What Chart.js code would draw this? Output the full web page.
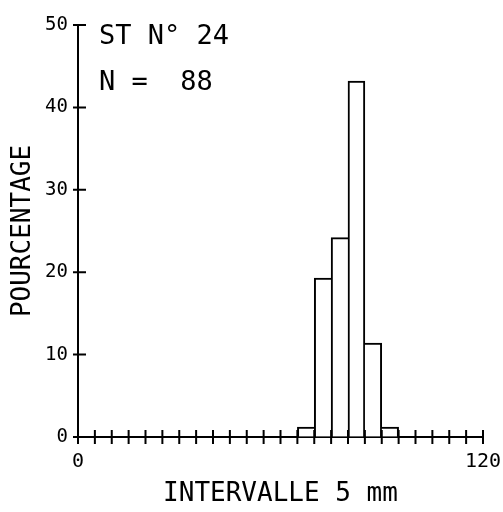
<!DOCTYPE html>
<html>
<head>
<meta charset="utf-8">
<script src="https://cdn.jsdelivr.net/npm/chart.js@4"></script>
<style>
  html, body { margin: 0; padding: 0; background: #fff; }
  canvas { display: block; }
</style>
</head>
<body>
<canvas id="histo" width="503" height="512"></canvas>
<script>
// class lower bounds (mm), 5 mm wide
const classStarts = [65, 70, 75, 80, 85, 90];
// percentage of the 88 individuals in each class
const percentages = [1.2, 19.3, 24.2, 43.2, 11.4, 1.2];
const xLabels = { 0: '0', 120: '120' };
const station = 'ST N° 24';
const sampleSize = 'N =  88';

const INK = '#000';
const MONO = "'DejaVu Sans Mono', monospace";

// shared edge between two bars goes to the taller one, so it is drawn once
function edgeWidths(c) {
  const i = c.dataIndex;
  const h = percentages;
  const prev = i > 0 ? h[i - 1] : -1;
  const next = i < h.length - 1 ? h[i + 1] : -1;
  return { top: 2, bottom: 0, left: h[i] > prev ? 2 : 0, right: h[i] >= next ? 2 : 0 };
}

// ticks that cross the axis lines, plus the header text
const plotterMarks = {
  id: 'plotterMarks',
  afterDraw(chart) {
    const { ctx, scales: { x, y } } = chart;
    const x0 = x.getPixelForValue(0);
    const y0 = y.getPixelForValue(0);
    ctx.save();
    ctx.strokeStyle = INK;
    ctx.lineWidth = 2;
    ctx.beginPath();
    x.ticks.forEach((t) => {
      const px = x.getPixelForValue(t.value);
      ctx.moveTo(px, y0 - 7);
      ctx.lineTo(px, y0 + 7);
    });
    y.ticks.forEach((t) => {
      const py = y.getPixelForValue(t.value);
      ctx.moveTo(x0 - 5, py);
      ctx.lineTo(x0 + 8, py);
    });
    ctx.stroke();

    ctx.fillStyle = INK;
    ctx.font = '27px ' + MONO;
    ctx.textAlign = 'left';
    ctx.textBaseline = 'middle';
    ctx.fillText(station, 99, 37);
    ctx.fillText(sampleSize, 99, 83);
    ctx.restore();
  },
};

new Chart(document.getElementById('histo'), {
  type: 'bar',
  data: {
    datasets: [
      {
        data: classStarts.map((s, i) => ({ x: s + 2.5, y: percentages[i] })),
        backgroundColor: '#fff',
        borderColor: INK,
        borderWidth: edgeWidths,
        borderSkipped: false,
        barPercentage: 1,
        categoryPercentage: 1,
      },
    ],
  },
  options: {
    responsive: false,
    animation: false,
    layout: { padding: { top: 25, right: 20, left: 0, bottom: 0 } },
    plugins: { legend: { display: false }, tooltip: { enabled: false } },
    scales: {
      x: {
        type: 'linear',
        min: 0,
        max: 120,
        offset: false,
        afterFit: (s) => {
          s.height = 75;
          s.paddingLeft = 0;
          s.paddingRight = 0;
        },
        grid: { display: true, drawOnChartArea: false, drawTicks: false },
        border: { display: true, color: INK, width: 2 },
        ticks: {
          stepSize: 5,
          autoSkip: false,
          maxRotation: 0,
          padding: 13,
          color: INK,
          font: { family: MONO, size: 20 },
          callback: (v) => xLabels[v] || '',
        },
        title: {
          display: true,
          text: 'INTERVALLE 5 mm',
          color: INK,
          font: { family: MONO, size: 26, lineHeight: 1 },
          padding: { top: 0, bottom: 5 },
        },
      },
      y: {
        min: 0,
        max: 50,
        afterFit: (s) => { s.width = 78; },
        grid: { display: true, drawOnChartArea: false, drawTicks: false },
        border: { display: true, color: INK, width: 2 },
        ticks: {
          stepSize: 10,
          padding: 10,
          color: INK,
          font: { family: MONO, size: 19 },
        },
        title: {
          display: true,
          text: 'POURCENTAGE',
          color: INK,
          font: { family: MONO, size: 26, lineHeight: 1 },
          padding: { top: 10, bottom: 0 },
        },
      },
    },
  },
  plugins: [plotterMarks],
});
</script>
</body>
</html>
